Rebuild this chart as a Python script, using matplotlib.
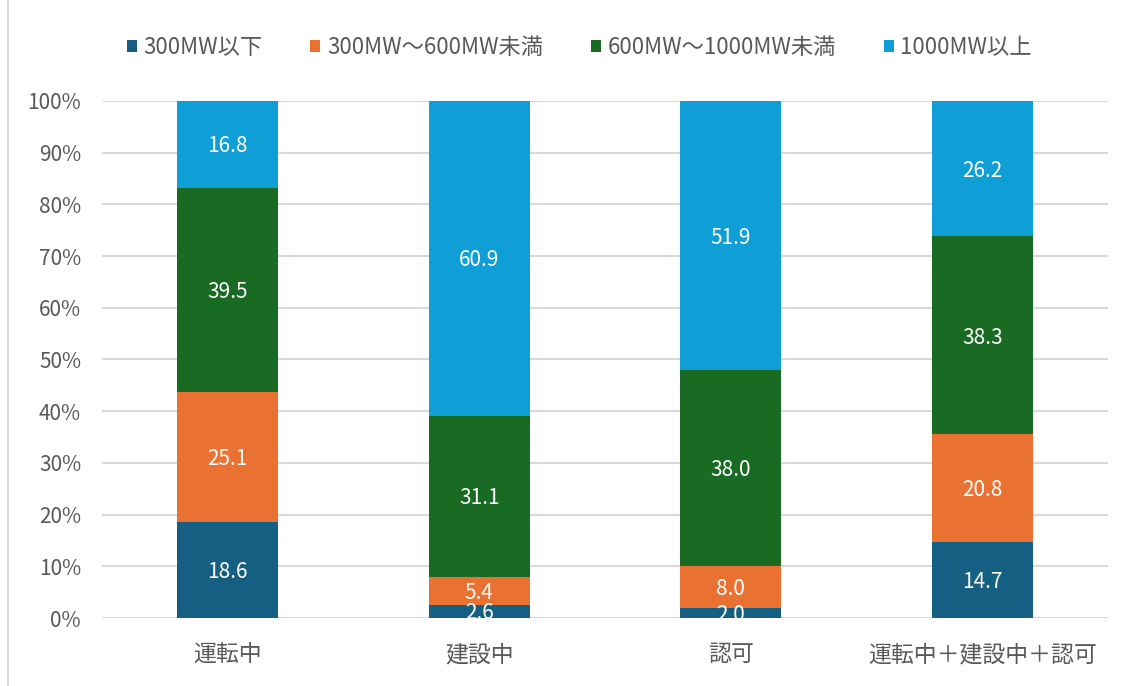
import matplotlib
matplotlib.use("Agg")
import matplotlib.pyplot as plt
import numpy as np

plt.rcParams['font.family'] = ['Noto Sans CJK JP', 'DejaVu Sans']

categories = ["運転中", "建設中", "認可", "運転中＋建設中＋認可"]
series_names = ["300MW以下", "300MW～600MW未満", "600MW～1000MW未満", "1000MW以上"]
s_300_below = [18.6, 2.6, 2.0, 14.7]
s_300_600 = [25.1, 5.4, 8.0, 20.8]
s_600_1000 = [39.5, 31.1, 38.0, 38.3]
s_1000_above = [16.8, 60.9, 51.9, 26.2]
colors = ["#156082", "#E97132", "#196B24", "#0F9ED5"]
yticks = [0, 10, 20, 30, 40, 50, 60, 70, 80, 90, 100]

series = [s_300_below, s_300_600, s_600_1000, s_1000_above]

fig = plt.figure(figsize=(11.29, 6.86), dpi=100)
ax = fig.add_axes([0.0903, 0.0991, 0.8911, 0.7537])

x = np.arange(len(categories))
bottom = np.zeros(len(categories))
for name, vals, c in zip(series_names, series, colors):
    vals = np.array(vals)
    ax.bar(x, vals, width=0.4, bottom=bottom, color=c, label=name, zorder=3)
    for xi, b, v in zip(x, bottom, vals):
        ax.text(xi, b + v / 2 - 0.4, f"{v:.1f}", ha="center", va="center",
                color="white", fontsize=15, zorder=4)
    bottom += vals

ax.set_xlim(-0.5, 3.5)
ax.set_ylim(0, 100)
ax.set_yticks(yticks)
ax.set_yticklabels([f"{t}%" for t in yticks])
ax.set_xticks(x)
ax.set_xticklabels(categories)
ax.tick_params(axis="y", length=0, pad=15, labelsize=15, labelcolor="#595959")
ax.tick_params(axis="x", length=0, pad=18, labelsize=16.5, labelcolor="#595959")
ax.grid(axis="y", color="#d9d9d9", linewidth=1.5, zorder=0)
for s in ax.spines.values():
    s.set_visible(False)

leg = fig.legend(loc="center", bbox_to_anchor=(0.513, 0.931), ncol=4, frameon=False,
                 fontsize=16, handlelength=0.45, handleheight=0.45,
                 handletextpad=0.3, columnspacing=2.15)
for t in leg.get_texts():
    t.set_color("#595959")

fig.add_artist(plt.Line2D([0.0075, 0.0075], [0, 1], transform=fig.transFigure,
                          color="#d9d9d9", linewidth=1.5))

fig.savefig("out.png", dpi=100)
